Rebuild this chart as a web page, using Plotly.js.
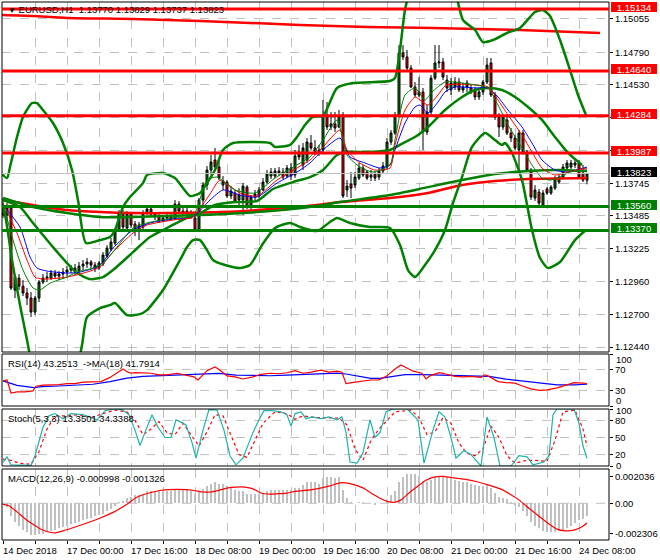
<!DOCTYPE html>
<html><head><meta charset="utf-8">
<script src="https://cdn.plot.ly/plotly-3.0.1.min.js"></script>
<style>html,body{margin:0;padding:0;background:#fff}#chart{width:660px;height:560px}</style>
</head><body><div id="chart"></div>
<script>
// ---------- EURUSD H1 candles (bar 0 = 14 Dec 2018 08:00) ----------
const openP = [1.13572,1.13493,1.13548,1.12895,1.12990,1.12926,1.12871,1.12831,1.12719,1.12831,
1.12958,1.12990,1.12990,1.13030,1.13006,1.13022,1.13038,1.13054,1.13070,1.13046,
1.13086,1.13102,1.13118,1.13094,1.13070,1.13102,1.13166,1.13221,1.13269,1.13373,
1.13508,1.13389,1.13500,1.13421,1.13365,1.13397,1.13508,1.13540,1.13500,1.13477,
1.13445,1.13469,1.13485,1.13461,1.13580,1.13524,1.13508,1.13516,1.13469,1.13381,
1.13612,1.13731,1.13851,1.13931,1.13875,1.13731,1.13755,1.13644,1.13668,1.13612,
1.13612,1.13715,1.13556,1.13636,1.13644,1.13692,1.13755,1.13803,1.13803,1.13843,
1.13835,1.13803,1.13867,1.13811,1.13995,1.13891,1.13931,1.14066,1.14027,1.14011,
1.14011,1.14290,1.14194,1.14218,1.14194,1.14290,1.13692,1.13739,1.13731,1.13787,
1.13867,1.13835,1.13795,1.13819,1.13795,1.13843,1.13875,1.14074,1.14146,1.14290,
1.14784,1.14752,1.14664,1.14513,1.14473,1.14473,1.14154,1.14313,1.14584,1.14704,
1.14712,1.14568,1.14489,1.14513,1.14552,1.14489,1.14513,1.14505,1.14489,1.14433,
1.14473,1.14552,1.14704,1.14449,1.14274,1.14194,1.14250,1.14146,1.14106,1.14011,
1.14146,1.13995,1.13851,1.13628,1.13676,1.13572,1.13700,1.13668,1.13707,1.13755,
1.13795,1.13867,1.13875,1.13891,1.13907,1.13827,1.13770];
const highP = [1.13628,1.13588,1.13572,1.13014,1.13022,1.12974,1.12911,1.12879,1.12847,1.12974,
1.13022,1.13038,1.13054,1.13054,1.13046,1.13070,1.13086,1.13094,1.13102,1.13118,
1.13134,1.13150,1.13134,1.13118,1.13126,1.13197,1.13253,1.13309,1.13389,1.13532,
1.13532,1.13524,1.13516,1.13445,1.13437,1.13532,1.13572,1.13564,1.13516,1.13500,
1.13493,1.13508,1.13516,1.13612,1.13604,1.13564,1.13556,1.13532,1.13485,1.13628,
1.13755,1.13883,1.13971,1.14027,1.13947,1.13803,1.13771,1.13723,1.13692,1.13707,
1.13747,1.13731,1.13652,1.13692,1.13715,1.13787,1.13851,1.13867,1.13867,1.13875,
1.13867,1.13891,1.13907,1.14011,1.14051,1.14067,1.14106,1.14130,1.14090,1.14051,
1.14409,1.14393,1.14313,1.14313,1.14329,1.14313,1.13771,1.13835,1.13835,1.13907,
1.13891,1.13851,1.13851,1.13843,1.13867,1.13915,1.14106,1.14170,1.14313,1.14847,
1.14847,1.14808,1.14688,1.14552,1.14592,1.14505,1.14369,1.14608,1.14847,1.14847,
1.14744,1.14608,1.14584,1.14592,1.14584,1.14545,1.14568,1.14529,1.14513,1.14497,
1.14568,1.14744,1.14744,1.14473,1.14305,1.14297,1.14274,1.14186,1.14130,1.14170,
1.14170,1.14011,1.13867,1.13731,1.13700,1.13692,1.13715,1.13731,1.13803,1.13811,
1.13899,1.13931,1.13931,1.13939,1.13931,1.13891,1.13829];
const lowP = [1.13469,1.13437,1.12895,1.12831,1.12895,1.12847,1.12775,1.12680,1.12695,1.12799,
1.12942,1.12958,1.12974,1.12982,1.12974,1.12982,1.13006,1.13030,1.13014,1.13030,
1.13054,1.13070,1.13070,1.13038,1.13054,1.13086,1.13150,1.13205,1.13253,1.13357,
1.13373,1.13357,1.13389,1.13325,1.13293,1.13373,1.13493,1.13485,1.13453,1.13429,
1.13437,1.13445,1.13445,1.13453,1.13508,1.13485,1.13469,1.13461,1.13365,1.13365,
1.13556,1.13692,1.13811,1.13851,1.13771,1.13692,1.13628,1.13620,1.13588,1.13572,
1.13493,1.13540,1.13532,1.13612,1.13628,1.13684,1.13739,1.13779,1.13787,1.13803,
1.13779,1.13787,1.13771,1.13787,1.13931,1.13851,1.13907,1.14011,1.13971,1.13963,
1.13995,1.14170,1.14170,1.14154,1.14186,1.13628,1.13636,1.13628,1.13707,1.13771,
1.13795,1.13771,1.13763,1.13763,1.13771,1.13827,1.13859,1.14051,1.14130,1.14274,
1.14728,1.14648,1.14505,1.14433,1.14433,1.14011,1.14130,1.14290,1.14568,1.14664,
1.14568,1.14473,1.14449,1.14489,1.14473,1.14465,1.14473,1.14457,1.14409,1.14409,
1.14449,1.14536,1.14433,1.14250,1.14114,1.14170,1.14130,1.14074,1.14011,1.13827,
1.13971,1.13835,1.13612,1.13604,1.13572,1.13564,1.13652,1.13652,1.13692,1.13739,
1.13779,1.13851,1.13859,1.13867,1.13779,1.13755,1.13737];
const closeP = [1.13493,1.13548,1.12911,1.12998,1.12926,1.12871,1.12831,1.12719,1.12831,1.12958,
1.12990,1.12998,1.13030,1.13006,1.13022,1.13038,1.13054,1.13070,1.13046,1.13086,
1.13102,1.13118,1.13094,1.13070,1.13110,1.13174,1.13229,1.13277,1.13373,1.13508,
1.13397,1.13508,1.13413,1.13365,1.13413,1.13500,1.13540,1.13500,1.13477,1.13445,
1.13469,1.13485,1.13461,1.13580,1.13524,1.13508,1.13524,1.13477,1.13373,1.13612,
1.13731,1.13851,1.13915,1.13875,1.13787,1.13763,1.13644,1.13684,1.13604,1.13652,
1.13723,1.13556,1.13636,1.13660,1.13692,1.13755,1.13819,1.13835,1.13843,1.13827,
1.13795,1.13867,1.13803,1.13963,1.13955,1.14027,1.14074,1.14027,1.13995,1.13987,
1.14290,1.14194,1.14218,1.14186,1.14282,1.13644,1.13723,1.13707,1.13795,1.13867,
1.13811,1.13787,1.13811,1.13787,1.13843,1.13883,1.14074,1.14146,1.14290,1.14784,
1.14752,1.14664,1.14513,1.14449,1.14449,1.14154,1.14313,1.14584,1.14704,1.14712,
1.14592,1.14505,1.14545,1.14552,1.14489,1.14513,1.14545,1.14473,1.14433,1.14473,
1.14552,1.14688,1.14449,1.14274,1.14194,1.14274,1.14146,1.14106,1.14027,1.14146,
1.13995,1.13851,1.13636,1.13692,1.13588,1.13668,1.13668,1.13715,1.13787,1.13795,
1.13875,1.13907,1.13907,1.13907,1.13795,1.13771,1.13823];

// ---------- main-chart indicator lines (bar index, price) ----------
const bbUpX = [-0.5,1,1.75,3.5,5,7.25,8.5,10,12.5,15,17.25,18.75,20.75,24.25,26.75,28,30,31.75,35,36,40,43,46.75,49.25,51,53,55,57.5,66.75,68,71.75,73.5,75.5,77.5,80,83.5,87.5,96.75,98,99.25,100.5,102.25,106.75,111.75,115,118,120,122.5,126,129.25,133,135,136.75,139.25,141.75,143.75,145.75];
const bbUpY = [1.13827,1.13787,1.13875,1.14114,1.14274,1.14385,1.14385,1.14329,1.14226,1.14066,1.13851,1.13612,1.13269,1.13293,1.13317,1.13373,1.13556,1.13636,1.13747,1.13811,1.13827,1.13787,1.13644,1.13668,1.13747,1.13851,1.14011,1.14066,1.14066,1.14035,1.14051,1.14114,1.14210,1.14274,1.14282,1.14505,1.14544,1.14560,1.14584,1.14808,1.15126,1.15326,1.15485,1.15405,1.15047,1.14967,1.14871,1.14887,1.14943,1.14983,1.15110,1.15126,1.15078,1.14887,1.14648,1.14449,1.14290];
const bbLoX = [-0.5,0.5,2.25,4.25,6,7.5,11.75,16.75,19.75,21,24.25,26.75,28,31,34.25,36,40,44.25,46,47.5,49.25,51,52.5,55.5,59.25,61.75,64.75,68,71.75,74.25,78.5,81.75,83.5,86.75,91.75,96.75,99.25,101.25,103,105.5,108,110.5,112.5,114.75,117.25,120.5,123,124.75,125.5,127.25,129.75,132.25,134.25,136.25,139.25,143,145.75];
const bbLoY = [1.13572,1.13493,1.13134,1.12775,1.12497,1.12257,1.11860,1.12018,1.12456,1.12680,1.12751,1.12775,1.12791,1.12695,1.12703,1.12735,1.12895,1.13134,1.13237,1.13293,1.13293,1.13213,1.13134,1.13094,1.13070,1.13094,1.13253,1.13389,1.13429,1.13397,1.13365,1.13437,1.13469,1.13429,1.13397,1.13389,1.13253,1.13054,1.12998,1.13094,1.13213,1.13373,1.13588,1.13795,1.14035,1.14146,1.14090,1.14051,1.14066,1.13987,1.13771,1.13373,1.13150,1.13070,1.13118,1.13293,1.13373];
const bbMidX = [0,4.25,7.5,12.5,16,18.5,21.75,25,27.5,32.5,36.75,41,46,49.25,53,58,63.5,67.5,72.5,76.75,80,83.5,86,91.75,96.75,100.5,103,106.25,110.5,114.75,118,121.25,124.75,128,131.25,134.75,138,141.25,144.75];
const bbMidY = [1.13612,1.13556,1.13429,1.13237,1.13110,1.13030,1.12982,1.12998,1.13054,1.13197,1.13317,1.13389,1.13469,1.13508,1.13572,1.13596,1.13604,1.13700,1.13755,1.13795,1.13851,1.13971,1.13995,1.13995,1.14011,1.14074,1.14114,1.14194,1.14329,1.14433,1.14489,1.14505,1.14489,1.14433,1.14353,1.14250,1.14114,1.13987,1.13891];
const longRedX = [0,7.5,16,24.25,32.5,41,54.25,63.5,78.5,84.25,96.75,106.25,114.75,123,131.25,146];
const longRedY = [1.13612,1.13572,1.13532,1.13516,1.13508,1.13508,1.13516,1.13532,1.13572,1.13596,1.13628,1.13668,1.13731,1.13763,1.13779,1.13787];
const longGreenX = [0,7.5,16,24.25,32.5,41,49.25,63.5,78.5,84.25,96.75,106.25,114.75,123,131.25,139.25,146];
const longGreenY = [1.13628,1.13556,1.13508,1.13477,1.13477,1.13485,1.13493,1.13516,1.13564,1.13596,1.13652,1.13715,1.13771,1.13819,1.13843,1.13851,1.13843];
const topRedX = [-0.5,7.5,16,32.5,49.25,74.25,91,107.5,129.25,149.25];
const topRedY = [1.15086,1.15078,1.15063,1.15055,1.15039,1.15007,1.14991,1.14983,1.14967,1.14943];
const maBlueX = [0,4.25,6.75,8.5,11,16,19.25,23.5,25,27.5,32.5,36.75,42.5,47.5,51.75,55,59.25,63.5,68.5,73.5,76.75,80,84.25,86.75,90.5,94.25,96.75,98,100.5,103,104.25,106.25,108.75,110.5,113,118,121.25,123.75,126.25,129.75,132.25,134.75,138,141.25,146];
const maBlueY = [1.13572,1.13397,1.13158,1.13070,1.13046,1.13030,1.13038,1.13078,1.13118,1.13229,1.13373,1.13429,1.13461,1.13477,1.13612,1.13692,1.13652,1.13636,1.13747,1.13835,1.13907,1.14011,1.14106,1.13955,1.13907,1.13867,1.13891,1.14011,1.14226,1.14353,1.14369,1.14305,1.14393,1.14473,1.14513,1.14505,1.14505,1.14433,1.14329,1.14194,1.14066,1.13931,1.13851,1.13835,1.13875];
const maRedX = [0,3.5,6,8,10,16,21,24.25,27.5,32.5,36,42.5,47.5,51.75,54.25,59.25,63.5,68.5,73.5,76.75,80,84.25,86,89.25,93,96.75,98,100.5,103,104.25,106.25,108.75,110.5,113,118,121.25,123.75,126.25,129.75,132.25,134.75,138,141.25,146];
const maRedY = [1.13588,1.13349,1.13134,1.12998,1.12982,1.12998,1.13038,1.13078,1.13197,1.13349,1.13413,1.13453,1.13477,1.13660,1.13771,1.13668,1.13644,1.13771,1.13867,1.13931,1.14035,1.14170,1.14011,1.13907,1.13851,1.13867,1.14051,1.14329,1.14433,1.14409,1.14369,1.14449,1.14521,1.14536,1.14529,1.14513,1.14409,1.14290,1.14130,1.13995,1.13867,1.13811,1.13835,1.13867];
const maGreenX = [0,2.5,5,7.5,9.25,11.75,16,18.5,22.5,25,28.5,32.5,36,42.5,47.5,51,53.5,58,63,68,73,76.75,80,83.5,86,89.25,92.5,96.75,98,100.5,103,105.5,107.25,110.5,113,118,121.25,123.75,126.25,129.75,132.25,134.75,136.75,139.25,141.75,146];
const maGreenY = [1.13588,1.13293,1.13054,1.12911,1.12895,1.12950,1.12998,1.13038,1.13070,1.13110,1.13237,1.13389,1.13429,1.13469,1.13485,1.13771,1.13795,1.13692,1.13668,1.13787,1.13883,1.13955,1.14090,1.14250,1.13971,1.13875,1.13835,1.13891,1.14090,1.14449,1.14505,1.14409,1.14473,1.14552,1.14552,1.14529,1.14505,1.14369,1.14210,1.14027,1.13891,1.13787,1.13771,1.13795,1.13835,1.13851];

// ---------- horizontal levels ----------
const redLevels = [1.15134,1.14640,1.14284,1.13987];
const greenLevels = [1.13560,1.13370];
const lastPrice = 1.13823;

// ---------- RSI ----------
const rsiX = [0,1,2,3.5,5.5,7.5,8.25,10,12,14,16,18,20,22.5,24.5,26.75,28.75,30,31,32,33,35,37,39,41,43.5,45.75,47.75,48.75,51,53,54,56,58,60,62.5,64.5,66.75,69,71,73,75,77,79.5,81.5,83.5,84.75,85.75,88,90,92,94,96,98,99.5,100.5,102.5,104.75,105.75,106.75,109,111,113,115,117,119.5,120.5,121.5,123.75,125.75,128,130,132,134,136,138.5,140.5,142.75,145,146];
const rsiY = [48,50,25,27,27,29,38,40,40.5,41,43,43,46,46,47,55,65,71,66,63,64,64,63,60,60,63,60,56,50,68,75,70,58,56,52,56,61,63,62,64,68,63,65,69,65,67,65,43,46,48,50,50,58,71,79,75,67,63,52,58,64,61,57,56,57,55,60,57,47,45,44,38,33,30,31,35,40,45,44,43.25];
const rsiMaX = [0,1.5,3.5,7.75,9.75,14,18.25,22.5,26.75,31,35,39.25,43.5,47.75,52,54,58.25,62.5,66.75,71,75.25,79.5,83.5,85.75,89,92,94.25,96.25,100.5,104.75,109,113.25,117.5,121.5,125.75,130,134.25,138.5,142.75,146];
const rsiMaY = [48.4,45.1,39.8,35.2,37.2,38.5,39.8,41.8,47,53.6,56.9,58.2,59.5,59.5,61.5,62.8,59.5,58.2,58.2,59.5,60.8,61.5,63.4,61.5,56.9,53,53,54.9,60.2,60.2,59.5,58.2,57.5,56.9,51.6,47.7,43.1,40.5,40.5,41.79];

// ---------- Stochastic ----------
const stochKX = [0,1,2,7,8,10,11.5,13,15,17,20,23.5,25.5,27.75,29.75,31.5,33,34.25,35.5,37.25,38.75,40.5,42,43.25,44.5,45.75,47.25,48.25,50,51.5,53.5,55.25,56.75,58.25,60,61.5,62.5,64,65.25,67.25,69.5,71,72,73,74.5,75.75,77.25,79.5,81.5,83.5,84.75,85.75,86.75,88.5,90,91.75,93,94.25,95.75,97.5,101,103.75,105.25,107.5,109,110.5,112,113.25,115.25,117,118.5,119.5,121,122.75,124.25,127,129,131,132.5,135.25,136.5,137.5,138.5,142.75,144,145,146];
const stochKY = [7,16,2,1,18,68,88,92,83,92,90,81,97,100,99,90,63,36,59,90,68,50,50,81,77,72,41,14,63,99,98,63,18,2,14,41,59,81,97,97,95,90,70,92,95,83,86,83,86,81,86,59,7,5,23,81,50,59,95,100,100,81,5,63,95,86,50,14,27,20,9,0,86,50,0,0,18,16,2,7,18,90,100,100,75,35,13.35];
const stochDX = [0,2,4,7,9,11,13,16,19,22,25,28,31,33,35,37,39,41,43,45,47,49,51,53,55,57,59,61,63,65,68,71,73,75,78,81,84,86,88,90,92,94,96,98,102,104,106,108,110,112,114,116,118,120,122,124,126,128,131,133,136,138,140,143,145,146];
const stochDY = [12,10,5,3,25,65,88,88,90,85,92,98,95,80,55,65,78,58,55,75,55,35,60,90,88,55,20,15,45,75,95,92,82,88,85,84,84,72,30,10,45,65,80,95,98,85,55,60,85,75,40,22,18,30,70,50,18,5,10,10,8,45,95,98,65,34.34];

// ---------- MACD ----------
const macdHist = [-0.0001,-0.0003,-0.0010,-0.0014,-0.0017,-0.0020,-0.0022,-0.0024,-0.0024,-0.0023,
-0.0023,-0.0022,-0.0021,-0.0020,-0.0019,-0.0018,-0.0017,-0.0016,-0.0015,-0.0014,
-0.0013,-0.0012,-0.0011,-0.0010,-0.0009,-0.0008,-0.0006,-0.0004,-0.0002,0.0001,
0.0002,0.0004,0.0005,0.0006,0.0006,0.0007,0.0009,0.0009,0.0009,0.0009,
0.0009,0.0009,0.0009,0.0011,0.0011,0.0010,0.0010,0.0009,0.0007,0.0009,
0.0011,0.0013,0.0015,0.0016,0.0015,0.0015,0.0013,0.0012,0.0010,0.0009,
0.0009,0.0007,0.0007,0.0007,0.0007,0.0008,0.0009,0.0010,0.0010,0.0010,
0.0010,0.0010,0.0010,0.0012,0.0012,0.0014,0.0016,0.0016,0.0016,0.0015,
0.0019,0.0020,0.0020,0.0019,0.0020,0.0010,0.0004,0.0001,0.0000,0.0001,
0.0001,0.0000,0.0000,-0.0001,0.0000,0.0000,0.0003,0.0006,0.0009,0.0016,
0.0020,0.0022,0.0022,0.0022,0.0021,0.0017,0.0016,0.0018,0.0020,0.0021,
0.0021,0.0020,0.0019,0.0018,0.0017,0.0016,0.0016,0.0015,0.0014,0.0013,
0.0013,0.0014,0.0012,0.0008,0.0005,0.0004,0.0003,0.0001,-0.0001,-0.0003,
-0.0006,-0.0010,-0.0014,-0.0017,-0.0019,-0.0021,-0.0022,-0.0022,-0.0022,-0.0021,
-0.0021,-0.0019,-0.0017,-0.0015,-0.0013,-0.0012,-0.000998];
const macdSigX = [0,1.5,3.5,5.5,7.75,9.75,12,13,15,18.25,21.5,24.5,27.75,31,33,35,37.25,39.25,41.5,45.75,47.75,50,52,54,56.25,58.25,60.5,62.5,64.5,66.75,69,71,73,77.25,81.5,83.5,84.75,86.75,90,92,94.25,96.25,98,99.5,101.5,103.75,105.75,108,110,112,115.25,118.5,121.5,124.75,127,129,131,134.25,136.5,138.5,140.5,142.75,144.75,146];
const macdSigY = [-0.00008,-0.00018,-0.00065,-0.00117,-0.00164,-0.00201,-0.00222,-0.00225,-0.00209,-0.00178,-0.00144,-0.00110,-0.00065,-0.00008,0.00039,0.00065,0.00084,0.00097,0.00104,0.00104,0.00097,0.00086,0.00086,0.00099,0.00117,0.00123,0.00123,0.00110,0.00078,0.00070,0.00073,0.00078,0.00091,0.00104,0.00131,0.00149,0.00157,0.00149,0.00117,0.00078,0.00039,0.00013,0.00008,0.00026,0.00078,0.00131,0.00175,0.00201,0.00204,0.00196,0.00183,0.00164,0.00138,0.00104,0.00065,0.00026,-0.00026,-0.00104,-0.00157,-0.00196,-0.00209,-0.00204,-0.00178,-0.00150];

// ---------- axis labels ----------
const priceTicks = [1.15055,1.14790,1.14530,1.14270,1.14010,1.13745,1.13485,1.13225,1.12960,1.12700,1.12440];
const hiddenPriceTicks = [1.14270,1.14010]; // covered by the level boxes in the reference
const timeLabels = ['14 Dec 2018','17 Dec 00:00','17 Dec 16:00','18 Dec 08:00','19 Dec 00:00','19 Dec 16:00','20 Dec 08:00','21 Dec 00:00','21 Dec 16:00','24 Dec 08:00'];
const timeLabelBars = [0,16,32,48,64,80,96,112,128,144];
const rsiLevels = [70,30];
const stochLevels = [80,50,20];
const macdTicks = [0.002036,0,-0.002306];

// ---------- build ----------
const FONT = '"Liberation Sans", Arial, sans-serif';
const GREEN = '#008000', RED = '#ff0000';
const bars = openP.map((_, i) => i);
const gridBars = []; for (let b = 0; b <= 152; b += 8) gridBars.push(b);

const dMain = [0.34944, 1], dRsi = [0.24907, 0.34572], dSto = [0.13755, 0.24349], dMacd = [0, 0.13197];

function line(x, y, color, width, yaxis) {
  return {type:'scatter', mode:'lines', x:x, y:y, yaxis:yaxis||'y', hoverinfo:'skip',
    line:{color:color, width:width, shape:'spline', smoothing:0.6}};
}

const traces = [
  {type:'candlestick', x:bars, open:openP, high:highP, low:lowP, close:closeP, yaxis:'y', hoverinfo:'skip',
   whiskerwidth:0,
   increasing:{line:{color:'#000', width:1}, fillcolor:'#007a00'},
   decreasing:{line:{color:'#000', width:1}, fillcolor:RED}},
  line(topRedX, topRedY, RED, 2.5),
  line(longRedX, longRedY, RED, 2.5),
  line(longGreenX, longGreenY, GREEN, 2.5),
  line(bbUpX, bbUpY, GREEN, 2.5),
  line(bbLoX, bbLoY, GREEN, 2.5),
  line(bbMidX, bbMidY, GREEN, 2.5),
  line(maBlueX, maBlueY, '#0000ff', 1),
  line(maRedX, maRedY, RED, 1),
  line(maGreenX, maGreenY, GREEN, 1),
  {type:'scatter', mode:'lines', x:rsiMaX, y:rsiMaY, yaxis:'y2', hoverinfo:'skip', line:{color:'#0000ff', width:1.2}},
  {type:'scatter', mode:'lines', x:rsiX, y:rsiY, yaxis:'y2', hoverinfo:'skip', line:{color:RED, width:1.2}},
  {type:'scatter', mode:'lines', x:stochDX, y:stochDY, yaxis:'y3', hoverinfo:'skip', line:{color:RED, width:1.2, dash:'dot'}},
  {type:'scatter', mode:'lines', x:stochKX, y:stochKY, yaxis:'y3', hoverinfo:'skip', line:{color:'#20b2aa', width:1.2}},
  {type:'bar', x:bars, y:macdHist, yaxis:'y4', width:0.3, marker:{color:'#c0c0c0', line:{width:0}}, hoverinfo:'skip'},
  {type:'scatter', mode:'lines', x:macdSigX, y:macdSigY, yaxis:'y4', hoverinfo:'skip', line:{color:RED, width:1.2, shape:'spline', smoothing:0.6}}
];

const tickFont = {family:FONT, size:9.5, color:'#000'};
const yCommon = {side:'right', anchor:'x', ticks:'outside', ticklen:3, tickcolor:'#000', tickfont:tickFont,
  zeroline:false, showline:false, fixedrange:true};

const shapes = [];
[dMain, dRsi, dSto, dMacd].forEach(d => shapes.push({type:'rect', xref:'paper', yref:'paper', x0:0, x1:1, y0:d[0], y1:d[1], line:{color:'#000', width:1}, layer:'above'}));
function hgrid(yref, v) { shapes.push({type:'line', xref:'paper', x0:0, x1:1, yref:yref, y0:v, y1:v, line:{color:'#c0c0c0', width:1, dash:'dash'}, layer:'below'}); }
rsiLevels.forEach(v => hgrid('y2', v));
stochLevels.forEach(v => hgrid('y3', v));
hgrid('y4', 0);
shapes.push({type:'line', xref:'paper', x0:0, x1:1, yref:'y', y0:lastPrice, y1:lastPrice, line:{color:'#c0c0c0', width:1}, layer:'above'});
redLevels.forEach(v => shapes.push({type:'line', xref:'paper', x0:0, x1:1, yref:'y', y0:v, y1:v, line:{color:RED, width:3}, layer:'above'}));
greenLevels.forEach(v => shapes.push({type:'line', xref:'paper', x0:0, x1:1, yref:'y', y0:v, y1:v, line:{color:GREEN, width:3}, layer:'above'}));

const annotations = [];
function box(v, bg) {
  annotations.push({xref:'paper', x:1, xanchor:'left', xshift:2, yref:'y', y:v, yanchor:'middle', yshift:2, showarrow:false,
    text:v.toFixed(5), font:{family:FONT, size:9.5, color:'#fff'}, bgcolor:bg, width:44, height:8, borderpad:1, borderwidth:0, align:'center'});
}
redLevels.forEach(v => box(v, RED));
box(lastPrice, '#000');
greenLevels.forEach(v => box(v, GREEN));
timeLabels.forEach((t, k) => annotations.push({xref:'x', x:timeLabelBars[k], xanchor:'left', xshift:-2, yref:'paper', y:0, yanchor:'top', yshift:-3,
  showarrow:false, text:t, font:tickFont}));
function label(txt, d, extra) {
  annotations.push(Object.assign({xref:'paper', x:0, xanchor:'left', xshift:4, yref:'paper', y:d[1], yanchor:'top', yshift:-2,
    showarrow:false, text:txt, font:tickFont}, extra||{}));
}
label('<span style="font-size:8px">▼</span> EURUSD,H1  1.13770 1.13829 1.13737 1.13823', dMain, {yshift:0});
label('RSI(14) 43.2513  -&gt;MA(18) 41.7914', dRsi);
label('Stoch(5,3,3) 13.3501 34.3388', dSto);
label('MACD(12,26,9) -0.000998 -0.001326', dMacd);
// window max/min labels drawn just inside the sub-window edges (as the terminal does)
function edgeLabel(txt, yref, v) {
  annotations.push({xref:'paper', x:1, xanchor:'left', xshift:5, yref:yref, y:v, yanchor:'middle', showarrow:false, text:txt, font:tickFont});
}
edgeLabel('100', 'y2', 90);
edgeLabel('0', 'y2', 11);
edgeLabel('100', 'y3', 98);
edgeLabel('0', 'y3', 1);

const layout = {
  width:660, height:560, margin:{l:2, r:51, t:2, b:20},
  paper_bgcolor:'#fff', plot_bgcolor:'#fff', showlegend:false, bargap:0,
  font:{family:FONT, size:9.5, color:'#000'},
  xaxis:{range:[-0.25, 151.5], anchor:'y4', tickvals:gridBars, showticklabels:false, ticks:'outside', ticklen:3, tickcolor:'#000',
    showgrid:true, gridcolor:'#c0c0c0', griddash:'dash', gridwidth:1, zeroline:false, showline:false,
    rangeslider:{visible:false}, fixedrange:true},
  yaxis:Object.assign({}, yCommon, {domain:dMain, range:[1.12401, 1.15190], tickvals:priceTicks,
    ticktext:priceTicks.map(v => hiddenPriceTicks.includes(v) ? '' : v.toFixed(5)),
    showgrid:true, gridcolor:'#c0c0c0', griddash:'dash'}),
  yaxis2:Object.assign({}, yCommon, {domain:dRsi, range:[0, 100], tickvals:[100].concat(rsiLevels, [0]), ticktext:['', '70', '30', ''], showgrid:false}),
  yaxis3:Object.assign({}, yCommon, {domain:dSto, range:[0, 100], tickvals:[100].concat(stochLevels, [0]), ticktext:['', '80', '50', '20', ''], showgrid:false}),
  yaxis4:Object.assign({}, yCommon, {domain:dMacd, range:[-0.002788, 0.002606], tickvals:macdTicks, ticktext:['0.002036','0.00','-0.002306'], showgrid:false}),
  shapes:shapes, annotations:annotations
};

Plotly.newPlot('chart', traces, layout, {staticPlot:true, displayModeBar:false});
</script></body></html>
